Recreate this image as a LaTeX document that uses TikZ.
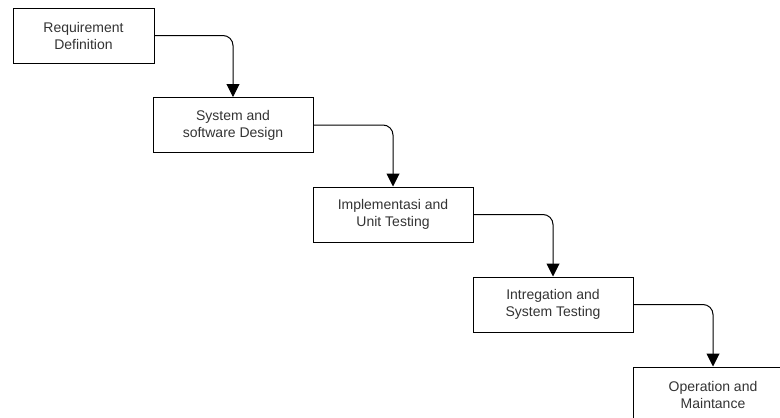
\documentclass[tikz,border=0pt]{standalone}
\usepackage{fontspec}
\setmainfont{Liberation Sans}
\usetikzlibrary{arrows.meta}
\tikzset{phase/.style={draw, line width=1pt, minimum width=160pt, minimum height=55pt, inner sep=0pt, align=center, text=black!80, font=\fontsize{14}{17}\selectfont}}
\tikzset{flow/.style={line width=1pt, rounded corners=10pt, -{Triangle[width=13pt,length=13pt]}}}
\begin{document}
\begin{tikzpicture}[x=1pt, y=-1pt]
        % Frame of the picture
        \useasboundingbox (0,0) rectangle (780,418);
        \clip (0,0) rectangle (780,418);
        % Phases
        \node[phase, minimum width=141pt] (req) at (83.5,35.5) {Requirement\\Definition};
        \node[phase] (des) at (233,125) {System and\\software Design};
        \node[phase] (imp) at (393,214.5) {Implementasi and\\Unit Testing};
        \node[phase] (int) at (553,304.5) {Intregation and\\System Testing};
        \node[phase] (ope) at (713,394.5) {Operation and\\Maintance};
        % Flow between phases
        \foreach \from/\to in {req/des, des/imp, imp/int, int/ope} {
          \draw[flow] (\from.east) -| (\to.north);
        }
\end{tikzpicture}
\end{document}
